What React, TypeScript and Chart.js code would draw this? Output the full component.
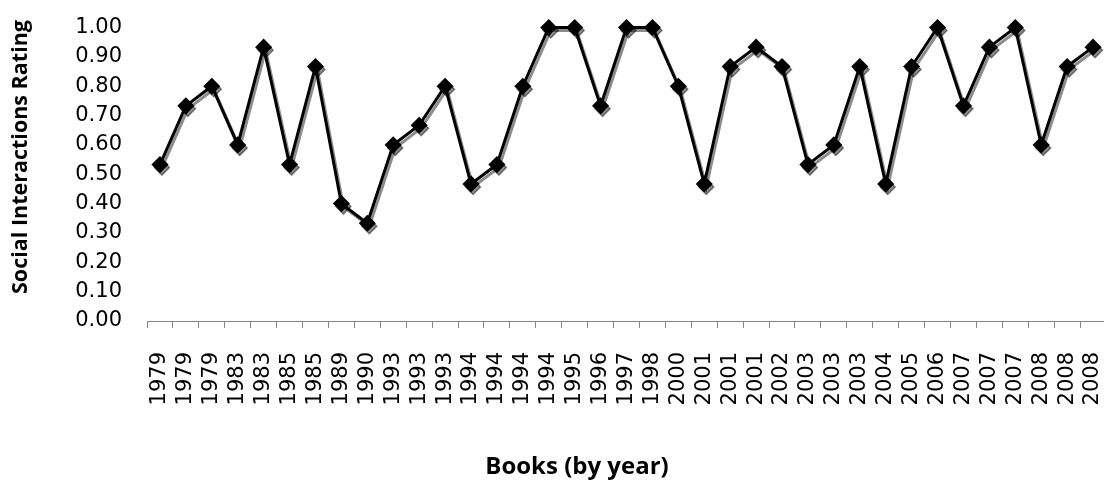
import React, { useEffect, useRef } from "react";
import { Chart, registerables } from "chart.js";

Chart.register(...registerables);

// Book publication years (one entry per book, in order)
const years: string[] = [
  "1979", "1979", "1979", "1983", "1983", "1985", "1985", "1989", "1990",
  "1993", "1993", "1993", "1994", "1994", "1994", "1994", "1995", "1996",
  "1997", "1998", "2000", "2001", "2001", "2001", "2002", "2003", "2003",
  "2003", "2004", "2005", "2006", "2007", "2007", "2007", "2008", "2008",
  "2008",
];

// Social interactions rating for each book
const ratings: number[] = [
  0.533, 0.733, 0.8, 0.6, 0.933, 0.533, 0.867, 0.4, 0.333,
  0.6, 0.667, 0.8, 0.467, 0.533, 0.8, 1.0, 1.0, 0.733,
  1.0, 1.0, 0.8, 0.467, 0.867, 0.933, 0.867, 0.533, 0.6,
  0.867, 0.467, 0.867, 1.0, 0.733, 0.933, 1.0, 0.6, 0.867,
  0.933,
];

const yTitle = "Social Interactions Rating";
const xTitle = "Books (by year)";

const W = 1106;
const H = 483;

// Drop shadow under the line and markers
const shadowPlugin = {
  id: "lineShadow",
  beforeDatasetsDraw(chart: any) {
    const ctx = chart.ctx;
    ctx.save();
    ctx.shadowColor = "rgba(0,0,0,0.45)";
    ctx.shadowOffsetX = 2;
    ctx.shadowOffsetY = 3;
    ctx.shadowBlur = 0;
  },
  afterDatasetsDraw(chart: any) {
    chart.ctx.restore();
  },
};

// Axis titles
const titlesPlugin = {
  id: "axisTitles",
  afterDraw(chart: any) {
    const ctx = chart.ctx;
    ctx.save();
    ctx.fillStyle = "#000";
    ctx.font = "bold 21.5px 'Open Sans'";
    ctx.textAlign = "center";
    ctx.textBaseline = "middle";
    ctx.translate(21, 157);
    ctx.rotate(-Math.PI / 2);
    ctx.fillText(yTitle, 0, 0);
    ctx.restore();

    ctx.save();
    ctx.fillStyle = "#000";
    ctx.font = "bold 24px 'Open Sans'";
    ctx.textAlign = "center";
    ctx.textBaseline = "alphabetic";
    ctx.fillText(xTitle, 577, 474);
    ctx.restore();
  },
};

export default function App() {
  const canvasRef = useRef<HTMLCanvasElement | null>(null);

  useEffect(() => {
    if (!canvasRef.current) return;
    const chart = new Chart(canvasRef.current, {
      type: "line",
      data: {
        labels: years,
        datasets: [
          {
            data: ratings,
            borderColor: "#000",
            backgroundColor: "#000",
            borderWidth: 3,
            tension: 0,
            pointStyle: "rectRot",
            pointRadius: 7.5,
            pointBorderWidth: 1.5,
            pointBackgroundColor: "#000",
            pointBorderColor: "#000",
            fill: false,
            clip: false,
          },
        ],
      },
      options: {
        responsive: false,
        animation: false,
        devicePixelRatio: 1,
        layout: {
          autoPadding: false,
          padding: { top: 27.5, left: 0, right: 0, bottom: 0 },
        },
        plugins: {
          legend: { display: false },
          tooltip: { enabled: false },
          title: { display: false },
        },
        scales: {
          x: {
            type: "category",
            offset: true,
            grid: {
              display: true,
              offset: true,
              drawOnChartArea: false,
              drawTicks: true,
              tickLength: 7,
              color: "#868686",
              lineWidth: 1,
            },
            border: { display: true, color: "#868686", width: 1 },
            ticks: {
              autoSkip: false,
              maxRotation: 90,
              minRotation: 90,
              padding: 24,
              color: "#000",
              font: { family: "DejaVu Sans", size: 21 },
            },
            afterFit(scale: any) {
              scale.height = H - 321;
              scale.paddingLeft = 0;
              scale.paddingRight = 0;
            },
          },
          y: {
            min: 0,
            max: 1,
            grid: { display: false, drawTicks: false },
            border: { display: false },
            ticks: {
              stepSize: 0.1,
              padding: 25,
              color: "#000",
              font: { family: "DejaVu Sans", size: 21 },
              callback: (v: any) => Number(v).toFixed(2),
            },
            afterFit(scale: any) {
              scale.width = 147;
              scale.paddingTop = 0;
              scale.paddingBottom = 0;
            },
          },
        },
      },
      plugins: [shadowPlugin, titlesPlugin],
    });
    return () => chart.destroy();
  }, []);

  return (
    <div
      style={{
        position: "fixed",
        left: 0,
        top: 0,
        width: 1104,
        height: H,
        overflow: "hidden",
        background: "#fff",
      }}
    >
      <canvas
        ref={canvasRef}
        width={W}
        height={H}
        style={{ width: W, height: H, display: "block" }}
      />
    </div>
  );
}
